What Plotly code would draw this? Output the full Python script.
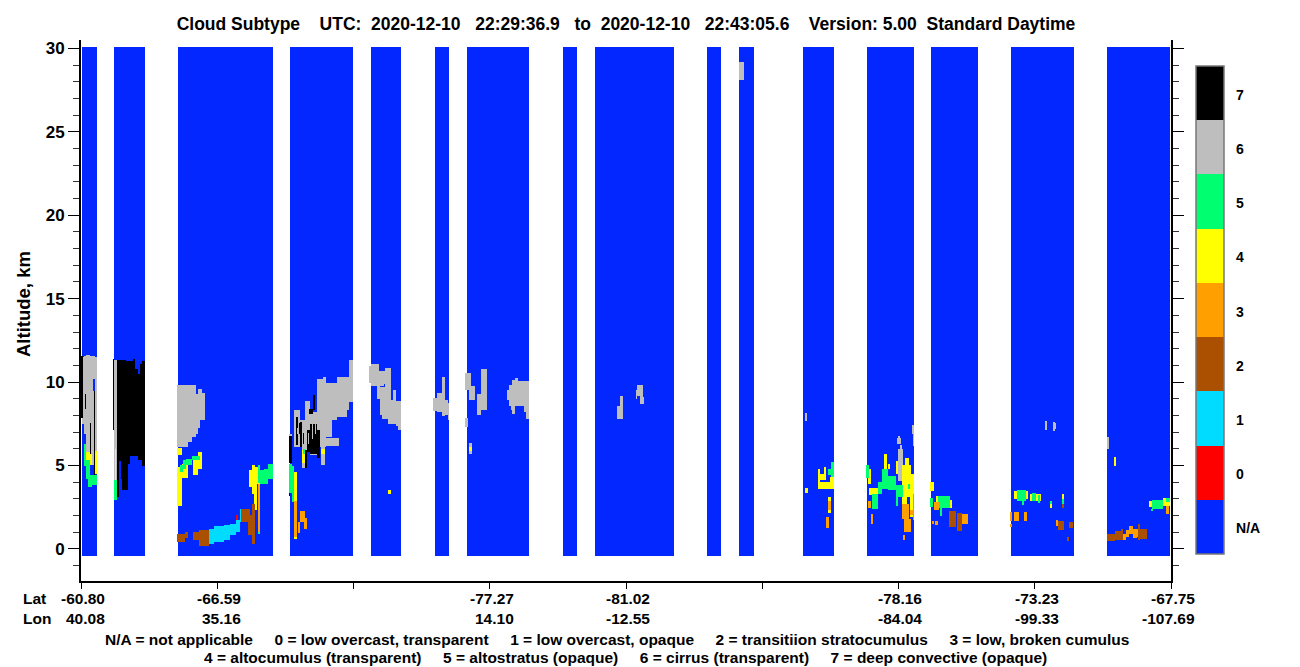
import numpy as np
import plotly.graph_objects as go

# Along-track record position and altitude (km) of every curtain block
track_segments = [(82,97),(114,145),(178,273),(290,353),(371,401),(435,449),(467,529),(563,577),
                  (595,674),(707,721),(739,754),(803,834),(867,914),(931,978),(1011,1074),(1107,1170)]
alt_floor, alt_ceiling = -0.4, 30.1

# cells: (track start, track end, altitude low, altitude high)
gray_cells = [
 (82,84,7.54,11.54),(84,86,6.94,11.6),(86,90,5.84,11.64),(90,95,5.04,11.6),(95,97,5.88,11.54),
 (114,117,3.14,11.38),
 (177,182,6.14,9.84),(182,188,6.14,9.84),(188,192,6.44,9.84),(192,196,6.74,9.84),(196,198,6.94,9.34),
 (198,200,7.3,9.64),(200,202,7.74,9.64),(202,205,7.74,9.38),
 (289,292,6.78,6.9),(294,300,6.14,8.34),(300,305,6.14,7.74),(302,307,4.88,6.94),(305,310,6.04,8.88),
 (310,317,5.64,8.24),(317,323,6.14,10.24),(323,326,6.14,10.34),(326,332,6.74,9.98),(332,337,7.74,9.98),
 (337,347,7.94,10.34),(347,349,8.38,10.34),(349,353,8.84,11.34),(326,339,6.18,6.7),(321,325,5.08,6.18),
 (369,371,9.98,10.98),(371,374,9.78,11.14),(374,379,9.78,11.1),(379,384,9.78,10.68),(377,380,9.04,9.78),
 (384,385,9.9,10.68),(385,391,8.94,10.86),(380,386,8.04,9.74),(382,388,7.84,8.94),(388,393,7.54,8.98),
 (393,396,7.5,9.58),(396,398,7.38,8.9),(398,401,7.14,8.9),
 (433,437,8.28,9.08),(437,442,8.22,9.38),(442,445,7.98,10.32),(445,448,8.04,8.98),(448,449,7.74,8.78),
 (465,471,9.54,10.56),(469,475,8.94,9.78),(477,481,8.04,9.34),(481,487,8.34,10.8),(465,468,7.32,7.86),
 (469,472,5.7,6.36),(507,509,8.98,9.58),(509,511,8.58,9.84),(511,512,8.38,9.84),(512,515,8.14,10.14),
 (515,518,8.58,10.26),(518,524,8.58,10.08),(524,526,8.24,10.08),(526,529,7.8,10.08),
 (617,620,7.8,8.58),(620,623,7.8,9.18),(636,637,9.0,9.54),(637,640,9.18,9.84),(640,643,9.14,9.84),(640,644,8.7,9.14),
 (739,744,28.1,29.2),
 (805,807,7.68,8.16),(897,901,6.3,6.68),(898,900,6.68,6.78),(900,902,6.0,6.24),(898,903,4.08,6.0),
 (912,914,6.94,7.44),(913,914,6.18,6.94),
 (1045,1047,7.14,7.68),(1053,1055,7.08,7.62),(1055,1056,7.2,7.56),(1107,1109,6.0,6.72),
]
clear_cells = [(93,95,9.5,10.2)]
black_cells = [
 (81,83,7.9,11.6),(85,86,8.4,9.3),(90,91,5.4,7.6),(94,95,3.9,9.5),
 (113,114,7.14,11.44),(117,119,3.14,11.34),(119,121,5.3,11.34),(121,122,4.2,11.34),(122,126,3.58,11.34),
 (126,128,3.58,11.28),(128,130,5.1,11.28),(130,133,5.6,11.28),(133,135,5.6,11.44),(135,138,5.6,10.84),
 (138,140,5.34,10.54),(140,142,5.34,11.14),(142,145,5.0,11.28),
 (289,292,5.18,6.78),(289,290,3.18,3.94),(296,298,6.24,7.94),(300,302,6.14,7.64),(309,313,8.14,8.44),
 (313,315,8.34,9.24),(305,307,4.88,5.94),(307,310,5.84,7.14),(310,317,5.74,7.54),(317,320,5.5,7.14),
 (303,304,6.3,7.0),(299,300,6.9,7.6),
]
gray_over_black = [(312,313,6.6,8.1),(308,309,6.3,7.0),(315,316,6.9,7.9),(297,298,6.9,7.3)]
yellow_cells = [
 (86,90,5.34,5.82),(90,92,5.04,5.74),(95,97,4.54,5.88),(115,116,4.14,6.0),
 (177,182,5.64,6.1),(177,182,2.6,4.94),(182,188,4.28,5.14),(193,198,4.44,5.44),(198,202,4.84,5.82),
 (249,253,3.74,4.74),(252,255,3.34,5.04),(254,257,2.38,4.94),(257,260,3.94,4.94),
 (294,297,2.88,4.62),(294,297,0.6,0.74),(302,305,5.18,5.98),(321,325,5.74,6.04),
 (388,391,3.3,3.54),(469,472,5.88,6.12),
 (818,834,3.6,4.02),(818,820,4.02,4.84),(820,826,4.14,4.5),(824,826,4.5,4.94),(830,834,4.02,4.34),
 (805,808,3.36,3.66),(828,831,2.16,3.12),
 (868,871,3.9,4.84),(869,878,3.24,3.7),(884,887,4.84,5.7),(888,890,4.8,5.14),(896,898,4.54,5.28),
 (902,911,3.14,5.04),(905,909,5.04,5.46),(902,907,2.74,3.14),(910,914,1.94,4.54),
 (930,934,3.48,4.02),(936,940,2.74,3.18),(948,952,2.46,2.94),
 (1014,1028,3.04,3.48),(1030,1041,2.9,3.3),(1050,1052,2.46,2.7),(1062,1064,3.0,3.3),
 (1114,1116,4.98,5.52),(1149,1152,2.52,2.88),(1163,1170,2.58,3.06),
]
green_cells = [
 (84,86,5.0,6.3),(86,90,4.24,5.34),(88,92,3.74,4.44),(92,97,3.84,4.48),(114,117,2.98,4.14),
 (180,183,4.64,5.04),(183,186,4.84,5.34),(186,192,5.04,5.44),(192,200,5.34,5.6),
 (258,260,3.98,5.04),(260,264,3.94,4.74),(264,268,3.9,4.84),(268,273,4.24,5.14),(258,260,0.9,1.04),
 (289,292,3.4,5.14),(292,294,2.84,5.0),(303,305,5.74,6.04),
 (831,834,4.34,5.24),(828,831,4.44,4.84),(866,869,4.3,5.04),(872,878,2.44,3.34),(878,882,3.3,4.04),
 (882,888,3.64,4.84),(888,896,3.54,4.38),(896,903,3.14,3.84),(896,898,2.58,3.14),(908,910,3.64,3.94),
 (913,914,1.74,3.34),(930,933,2.52,3.06),(938,950,2.5,3.18),(940,942,1.98,2.5),
 (1017,1026,2.88,3.54),(1022,1024,2.64,2.88),(1032,1036,2.9,3.36),(1038,1040,2.76,3.24),
 (1050,1052,2.7,2.88),(1062,1064,2.7,3.0),(1152,1163,2.44,2.94),(1151,1153,2.28,2.44),(1166,1170,2.82,3.06),
]
cyan_cells = [(209,214,0.3,1.24),(214,224,0.44,1.38),(224,230,0.58,1.44),(230,236,0.84,1.54),
              (236,240,1.04,1.74),(240,242,1.64,2.44)]
brown_cells = [
 (177,185,0.44,0.94),(185,188,0.7,1.02),(193,199,0.58,1.06),(199,209,0.2,1.14),
 (241,250,1.64,2.44),(248,252,0.84,2.04),(252,255,0.34,2.7),
 (949,956,1.32,2.28),(957,962,1.08,2.16),(1058,1064,1.14,1.68),(1062,1064,2.46,2.7),(1069,1073,1.26,1.62),(1067,1069,0.48,0.72),
 (1107,1115,0.48,0.9),(1115,1123,0.54,1.08),(1121,1123,1.08,1.2),(1138,1140,0.54,1.5),(1140,1147,0.6,1.2),
]
orange_cells = [
 (258,260,1.04,3.94),(294,297,0.74,2.88),(298,300,0.98,1.64),(300,305,1.64,2.28),(304,307,1.2,1.9),
 (826,829,1.26,1.92),(828,831,2.34,2.88),(868,871,2.48,2.88),(871,873,1.5,2.1),(902,909,1.8,2.74),
 (904,911,1.02,1.8),(903,905,0.54,0.84),(910,913,2.04,2.34),(934,939,2.34,2.82),(932,934,1.5,1.68),
 (935,938,1.44,1.68),(962,968,1.5,2.1),
 (1010,1012,1.68,2.22),(1014,1019,1.68,2.22),(1024,1027,1.68,2.22),(1010,1012,1.32,1.5),(1056,1058,1.38,1.74),
 (1123,1126,0.54,0.9),(1126,1129,0.72,1.14),(1129,1133,0.94,1.38),(1133,1137,0.66,1.24),(1137,1138,0.74,1.2),
 (1166,1169,2.1,2.58),
]
red_cells = [(236,238,1.74,2.04)]

class_values = [-1, 0, 1, 2, 3, 4, 5, 6, 7]
class_labels = ["N/A", "0", "1", "2", "3", "4", "5", "6", "7"]
class_colors = ["#0327ff", "#ff0000", "#00dcff", "#aa5000", "#ff9f00", "#ffff00", "#00ff70", "#bebebe", "#000000"]

lat_ticks = [81, 217.25, 353.5, 489.75, 626, 762.25, 898.5, 1034.75, 1171]
lat_label_pos = [81, 217.25, 489.75, 626, 898.5, 1034.75, 1171]
lat_labels = ["-60.80", "-66.59", "-77.27", "-81.02", "-78.16", "-73.23", "-67.75"]
lon_labels = ["40.08", "35.16", "14.10", "-12.55", "-84.04", "-99.33", "-107.69"]
alt_ticks = [0, 5, 10, 15, 20, 25, 30]

title_text = ("Cloud Subtype    UTC:  2020-12-10   22:29:36.9   to  2020-12-10   22:43:05.6    "
              "Version: 5.00  Standard Daytime")
key_line_1 = ("N/A = not applicable     0 = low overcast, transparent     1 = low overcast, opaque     "
              "2 = transitiion stratocumulus     3 = low, broken cumulus")
key_line_2 = ("4 = altocumulus (transparent)     5 = altostratus (opaque)     "
              "6 = cirrus (transparent)     7 = deep convective (opaque)")

FONT = "Liberation Sans"
dx, dy = 1.0, 0.06
xs = np.arange(81.5, 1171, dx)
ys = np.arange(alt_floor + dy / 2, alt_ceiling, dy)
z = np.full((len(ys), len(xs)), np.nan, dtype=np.float32)


def paint(cells, value):
    for x0, x1, lo, hi in cells:
        z[np.ix_((ys >= lo) & (ys <= hi), (xs >= x0) & (xs <= x1))] = value


paint([(a, b, alt_floor, alt_ceiling) for a, b in track_segments], -1)
paint(gray_cells, 6)
paint(clear_cells, -1)
paint(black_cells, 7)
paint(gray_over_black, 6)
paint(yellow_cells, 4)
paint(green_cells, 5)
paint(cyan_cells, 1)
paint(brown_cells, 2)
paint(orange_cells, 3)
paint(red_cells, 0)

n = len(class_colors)
scale = []
for i, c in enumerate(class_colors):
    scale += [[i / n, c], [(i + 1) / n, c]]


def px(x):
    return (x - 81) / 1090


def py(y):
    return (581 - y) / 541


fig = go.Figure(go.Heatmap(
    z=z.tolist(), x0=xs[0], dx=dx, y0=ys[0], dy=dy,
    zmin=-1.5, zmax=7.5, colorscale=scale, hoverongaps=False,
    colorbar=dict(
        x=px(1196), xanchor="left",
        y=py(554), yanchor="bottom", lenmode="pixels", len=488,
        thicknessmode="pixels", thickness=28, xpad=0, ypad=0,
        outlinecolor="#777777", outlinewidth=1.5, borderwidth=0,
        tickmode="array", tickvals=[v - 0.03 for v in class_values], ticktext=class_labels,
        ticks="outside", ticklen=9, tickcolor="rgba(0,0,0,0)",
        tickfont=dict(family=FONT, size=14, color="black", weight="bold"),
    ),
))

fig.update_layout(
    width=1300, height=667, autosize=False,
    margin=dict(l=81, r=129, t=40, b=86),
    paper_bgcolor="white", plot_bgcolor="white",
    font=dict(family=FONT, color="black"),
    title=dict(text=title_text, xref="container", x=626 / 1300, xanchor="center",
               yref="container", y=1 - 24 / 667, yanchor="middle",
               font=dict(family=FONT, size=17.5, color="black", weight="bold")),
    xaxis=dict(range=[81, 1171], tickmode="array", tickvals=lat_ticks,
               ticktext=[""] * len(lat_ticks), ticks="outside", ticklen=6, tickwidth=1,
               tickcolor="black", showline=True, linecolor="black", linewidth=1.5,
               showgrid=False, zeroline=False),
    yaxis=dict(range=[-1.92, 30.5], tickmode="array", tickvals=alt_ticks,
               ticks="outside", ticklen=11, tickwidth=1, tickcolor="black",
               showline=True, linecolor="black", linewidth=2, mirror="ticks",
               showgrid=False, zeroline=False,
               tickfont=dict(family=FONT, size=17, color="black", weight="bold"),
               minor=dict(dtick=1, ticks="outside", ticklen=6, tickwidth=1, tickcolor="#333333", showgrid=False)),
)

small = dict(family=FONT, size=15.5, color="black", weight="bold")
anns = [dict(text="Altitude, km", xref="paper", yref="paper", x=px(23), y=py(304), xanchor="center",
             yanchor="middle", textangle=-90, showarrow=False,
             font=dict(family=FONT, size=18.5, color="black", weight="bold"))]
for name, y in (("Lat", 598), ("Lon", 618)):
    anns.append(dict(text=name, xref="paper", yref="paper", x=px(21), y=py(y),
                     xanchor="left", yanchor="middle", showarrow=False, font=small))
for pos, la, lo in zip(lat_label_pos, lat_labels, lon_labels):
    anns.append(dict(text=la, xref="paper", yref="paper", x=px(pos + 26), y=py(598), xanchor="right",
                     yanchor="middle", showarrow=False, font=small))
    anns.append(dict(text=lo, xref="paper", yref="paper", x=px(pos + 26), y=py(618), xanchor="right",
                     yanchor="middle", showarrow=False, font=small))
anns.append(dict(text=key_line_1, xref="paper", yref="paper", x=px(617), y=py(639),
                 xanchor="center", yanchor="middle", showarrow=False, font=small))
anns.append(dict(text=key_line_2, xref="paper", yref="paper", x=px(625), y=py(657),
                 xanchor="center", yanchor="middle", showarrow=False, font=small))

shapes = []
for k in range(1, n):
    yb = 554 - k * 488 / n
    shapes.append(dict(type="line", xref="paper", yref="paper", x0=px(1196), x1=px(1224),
                       y0=py(yb), y1=py(yb), line=dict(color="#555555", width=1)))
fig.update_layout(annotations=anns, shapes=shapes)

fig.write_html("out.html", config={"displayModeBar": False},
               post_script="document.body.style.margin='0';")
